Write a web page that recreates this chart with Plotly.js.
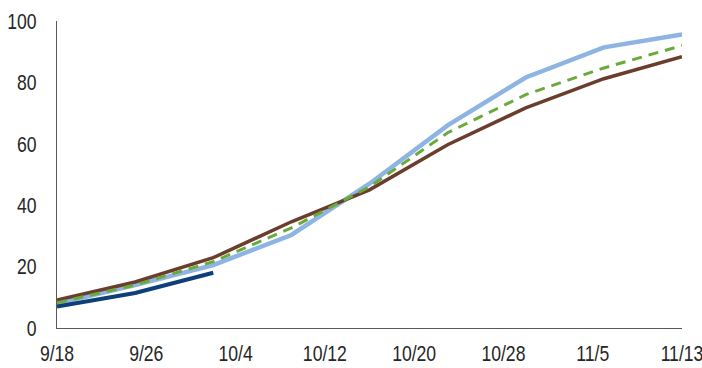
<!DOCTYPE html>
<html>
<head>
<meta charset="utf-8">
<script src="https://cdn.plot.ly/plotly-3.0.1.min.js"></script>
<style>html,body{margin:0;padding:0;background:#fff;}#chart{width:702px;height:368px;}</style>
</head>
<body>
<div id="chart"></div>
<script>
const dates = ['2020-09-18','2020-09-25','2020-10-02','2020-10-09','2020-10-16','2020-10-23','2020-10-30','2020-11-06','2020-11-13'];
const lightBlue = [8, 14, 20.5, 30.3, 47, 66, 81.6, 91.4, 95.6];
const brown = [9.1, 15, 22.9, 34.6, 45, 59.7, 71.7, 81.2, 88.4];
const green = [8.2, 14, 21.6, 32.6, 46, 63.6, 76, 84.7, 92];
const darkBlueDates = ['2020-09-18','2020-09-25','2020-10-02'];
const darkBlue = [7, 11.4, 18];
const tickVals = ['2020-09-18','2020-09-26','2020-10-04','2020-10-12','2020-10-20','2020-10-28','2020-11-05','2020-11-13'];
const tickText = ['9/18','9/26','10/4','10/12','10/20','10/28','11/5','11/13'];

const traces = [
  {x: dates, y: lightBlue, mode: 'lines', line: {color: '#8DB4E2', width: 4.5}},
  {x: dates, y: brown, mode: 'lines', line: {color: '#6B3D2C', width: 3.5}},
  {x: dates, y: green, mode: 'lines', line: {color: '#6AAA3A', width: 3, dash: '10px,7px'}},
  {x: darkBlueDates, y: darkBlue, mode: 'lines', line: {color: '#0D3F78', width: 4}}
];
const font = {family: '"Liberation Sans", Arial, sans-serif', size: 22, color: '#262626'};
const layout = {
  width: 702, height: 368,
  margin: {l: 57, r: 20, t: 21, b: 40},
  showlegend: false,
  paper_bgcolor: '#fff', plot_bgcolor: '#fff',
  font: font,
  xaxis: {
    type: 'date', range: ['2020-09-18', '2020-11-13'],
    tickvals: tickVals, ticktext: tickText,
    showgrid: false, zeroline: false, showline: true, linecolor: '#595959', linewidth: 1,
    ticks: '', ticklabelstandoff: 6, tickfont: font, ticklabeloverflow: 'allow'
  },
  yaxis: {
    range: [0, 100], tickvals: [0,20,40,60,80,100],
    showgrid: false, zeroline: false, showline: true, linecolor: '#595959', linewidth: 1,
    ticks: '', ticklabelstandoff: 15, tickfont: font, ticklabeloverflow: 'allow'
  }
};
Plotly.newPlot('chart', traces, layout, {staticPlot: true}).then(function () {
  // condense tick labels horizontally to mimic a narrow typeface
  document.querySelectorAll('#chart .xtick text, #chart .ytick text').forEach(function (t) {
    const x = parseFloat(t.getAttribute('x')) || 0;
    const y = parseFloat(t.getAttribute('y')) || 0;
    const tr = t.getAttribute('transform') || '';
    t.setAttribute('transform', tr + ' translate(' + x + ',' + y + ') scale(0.8,1) translate(' + (-x) + ',' + (-y) + ')');
  });
});
</script>
</body>
</html>
